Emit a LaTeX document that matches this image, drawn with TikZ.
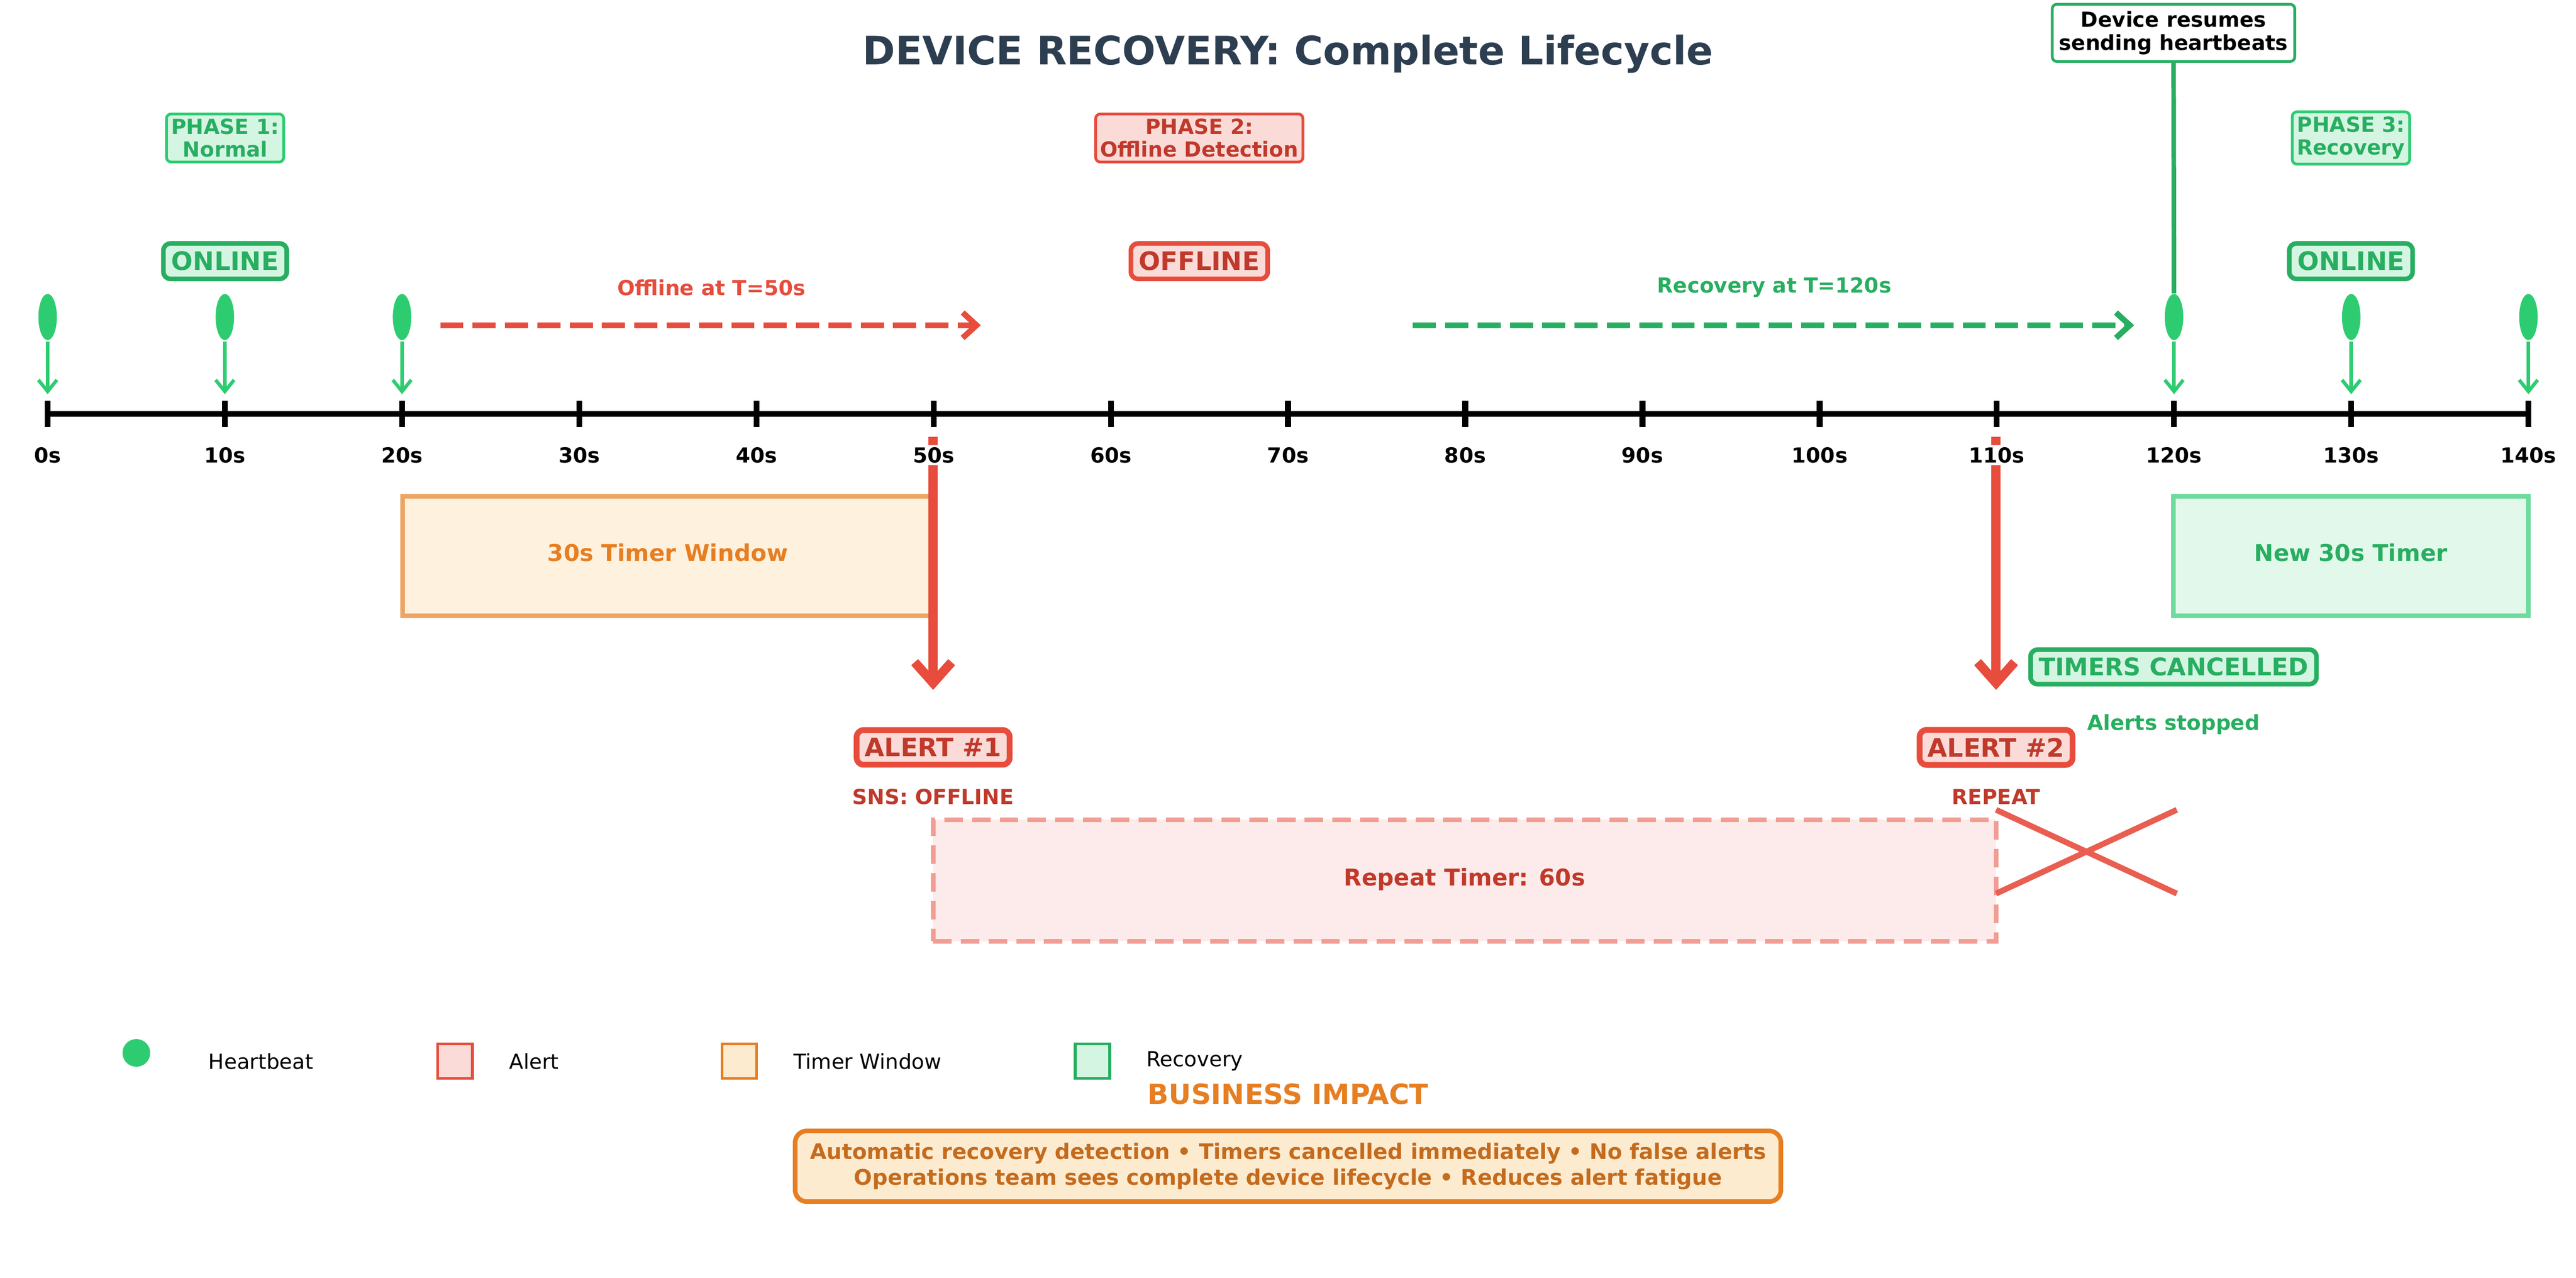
\documentclass[tikz,border=0pt]{standalone}
\usepackage{fontspec}
\setmainfont{DejaVu Sans}
\usetikzlibrary{positioning}
\usetikzlibrary{arrows.meta}
\usetikzlibrary{calc}
\usetikzlibrary{shapes.geometric}
\definecolor{cgreen}{HTML}{27AE60}
\definecolor{lgreen}{HTML}{2ECC71}
\definecolor{fgreen}{HTML}{D5F5E3}
\definecolor{cred}{HTML}{E74C3C}
\definecolor{dred}{HTML}{C0392B}
\definecolor{fred}{HTML}{FADBD8}
\definecolor{corange}{HTML}{E67E22}
\definecolor{forange}{HTML}{FDEBD0}
\definecolor{ctitle}{HTML}{2C3E50}
\begin{document}
\begin{tikzpicture}[
	x=0.025cm, y=-0.025cm,
	lbl/.style={font=\bfseries\fontsize{9}{10}\selectfont, align=center},
	phase/.style={rounded corners=2pt, rectangle, draw, line width=1.2pt, inner sep=2pt, font=\bfseries\fontsize{9}{10}\selectfont, align=center},
	state/.style={rounded corners=3pt, rectangle, draw, line width=2pt, inner sep=3.5pt, font=\bfseries\fontsize{11}{13}\selectfont},
	hb/.style={-{Straight Barb[length=5pt,width=8pt]}, lgreen, line width=1.5pt},
	alarm/.style={-{Straight Barb[length=9pt,width=16pt]}, cred, line width=4pt},
	leg/.style={anchor=west, font=\fontsize{9}{10}\selectfont},
	]
	\useasboundingbox (0,0) rectangle (1568,778);

	% title
	\node[font=\bfseries\fontsize{17}{20}\selectfont, text=ctitle] (title) at (784,33) {DEVICE RECOVERY: Complete Lifecycle};

	% timeline
	\coordinate (t0) at (29,252);
	\coordinate (t140) at (1539,252);
	\draw[line width=2.5pt] (t0) -- (t140);
	\foreach \s in {0,10,...,140} {
		\coordinate (tick\s) at ({29+10.786*\s},252);
		\draw[line width=2.5pt] ($(tick\s)+(0,-8)$) -- ($(tick\s)+(0,8)$);
		\node[lbl] (lab\s) at ($(tick\s)+(0,25)$) {\s s};
	}

	% heartbeats
	\foreach \s in {0,10,20,120,130,140} {
		\node[ellipse, fill=lgreen, minimum width=8pt, minimum height=20pt, inner sep=0pt] (beat\s) at ($(tick\s)+(0,-59)$) {};
		\draw[hb] ($(tick\s)+(0,-44)$) -- ($(tick\s)+(0,-12)$);
	}

	% phases and states
	\node[phase, draw=lgreen, fill=fgreen, text=cgreen] (ph1) at (137,84) {PHASE 1:\\Normal};
	\node[phase, draw=cred, fill=fred, text=dred] (ph2) at (730,84) {PHASE 2:\\Offline Detection};
	\node[phase, draw=lgreen, fill=fgreen, text=cgreen] (ph3) at (1431,84) {PHASE 3:\\Recovery};
	\node[state, draw=cgreen, fill=fgreen, text=cgreen] (on1) at (137,159) {ONLINE};
	\node[state, draw=cred, fill=fred, text=dred] (off) at (730,159) {OFFLINE};
	\node[state, draw=cgreen, fill=fgreen, text=cgreen] (on2) at (1431,159) {ONLINE};

	% transitions
	\coordinate (offA) at (268,198);
	\coordinate (offB) at (597,198);
	\draw[-{Straight Barb[length=6pt,width=11pt]}, cred, line width=2.5pt, dash pattern=on 10pt off 4pt] (offA) -- (offB);
	\node[lbl, text=cred] (offtxt) at (433,175) {Offline at T=50s};
	\coordinate (recA) at (860,198);
	\coordinate (recB) at (1299,198);
	\draw[-{Straight Barb[length=6pt,width=11pt]}, cgreen, line width=2.5pt, dash pattern=on 10pt off 4pt] (recA) -- (recB);
	\node[lbl, text=cgreen] (rectxt) at (1080,175) {Recovery at T=120s};

	% resume
	\node[phase, draw=cgreen, fill=white, text=black, inner sep=3pt] (resume) at (1323,20) {Device resumes\\sending heartbeats};
	\draw[cgreen, line width=2pt] (resume) -- (beat120);

	% timers
	\node[rectangle, draw=corange!70, fill=forange!70, line width=2pt, minimum width=323*0.025cm, minimum height=73*0.025cm, text=corange, font=\bfseries\fontsize{10}{12}\selectfont] (win1) at (406.5,338.5) {\raisebox{3pt}{30s Timer Window}};
	\node[rectangle, draw=lgreen!70, fill=fgreen!70, line width=2pt, minimum width=216*0.025cm, minimum height=73*0.025cm, text=cgreen, font=\bfseries\fontsize{10}{12}\selectfont] (win2) at (1431,338.5) {\raisebox{3pt}{New 30s Timer}};
	\node[rectangle, draw=cred!55, fill=fred!55, line width=2pt, dash pattern=on 8pt off 4pt, minimum width=647*0.025cm, minimum height=74*0.025cm, text=dred, font=\bfseries\fontsize{10}{12}\selectfont] (rep) at (891.5,536) {\raisebox{3pt}{Repeat Timer: 60s}};

	% alerts
	\coordinate (a1top) at (568,266);
	\coordinate (a1end) at (568,420);
	\coordinate (a2top) at (1215,266);
	\coordinate (a2end) at (1215,420);
	\draw[alarm] (a1top) -- (a1end);
	\draw[alarm] (a2top) -- (a2end);
	\node[lbl, fill=white, inner sep=1pt] at (lab50) {50s};
	\node[lbl, fill=white, inner sep=1pt] at (lab110) {110s};
	\node[state, draw=cred, fill=fred, text=dred, line width=2.5pt] (al1) at (568,455) {ALERT \#1};
	\node[lbl, text=dred] (al1t) at (568,485) {SNS: OFFLINE};
	\node[state, draw=cred, fill=fred, text=dred, line width=2.5pt] (al2) at (1215,455) {ALERT \#2};
	\node[lbl, text=dred] (al2t) at (1215,485) {REPEAT};
	\node[state, draw=cgreen, fill=fgreen, text=cgreen, font=\bfseries\fontsize{10.5}{12}\selectfont] (cancel) at (1323,406) {TIMERS CANCELLED};
	\node[lbl, text=cgreen] (stop) at (1323,441) {Alerts stopped};

	% cross
	\coordinate (xa) at (1215,493);
	\coordinate (xb) at (1325,544);
	\coordinate (xc) at (1215,544);
	\coordinate (xd) at (1325,493);
	\draw[cred!90, line width=2.5pt] (xa) -- (xb) (xc) -- (xd);

	% legend
	\node[circle, fill=lgreen, minimum size=12pt, inner sep=0pt] (lhb) at (83,641) {};
	\node[leg] (lhbt) at (122,646) {Heartbeat};
	\node[rectangle, draw=cred, fill=fred, line width=1.2pt, minimum size=15pt] (lal) at (277,646) {};
	\node[leg] (lalt) at (305,646) {Alert};
	\node[rectangle, draw=corange, fill=forange, line width=1.2pt, minimum size=15pt] (ltw) at (450,646) {};
	\node[leg] (ltwt) at (478,646) {Timer Window};
	\node[rectangle, draw=cgreen, fill=fgreen, line width=1.2pt, minimum size=15pt] (lrc) at (665,646) {};
	\node[leg] (lrct) at (693,646) {Recovery};

	% impact
	\node[font=\bfseries\fontsize{12}{14}\selectfont, text=corange] (imp) at (784,666) {BUSINESS IMPACT};
	\node[rounded corners=5pt, rectangle, draw=corange, fill=forange, line width=2pt, minimum width=600*0.025cm, minimum height=43*0.025cm, text=corange!85!black, font=\bfseries\fontsize{9.3}{11}\selectfont, align=center] (impbox) at (784,710) {Automatic recovery detection • Timers cancelled immediately • No false alerts\\Operations team sees complete device lifecycle • Reduces alert fatigue};
\end{tikzpicture}
\end{document}
